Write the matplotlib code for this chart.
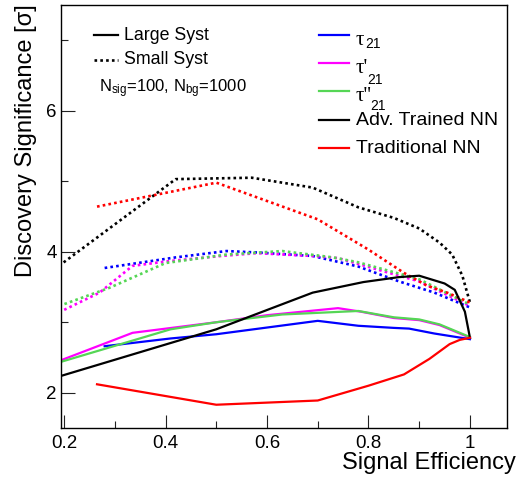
import matplotlib
matplotlib.use("Agg")
import matplotlib.pyplot as plt
from matplotlib.lines import Line2D
from matplotlib.ticker import MultipleLocator

plt.rcParams['font.family'] = ['Liberation Sans', 'DejaVu Sans']
plt.rcParams['mathtext.fontset'] = 'custom'
plt.rcParams['mathtext.rm'] = 'Liberation Sans'
plt.rcParams['mathtext.it'] = 'Liberation Sans'

# ---- data ----
adv_large_x = [0.19, 0.50, 0.69, 0.79, 0.86, 0.90, 0.95, 0.97, 0.99, 1.0]
adv_large_y = [2.23, 2.90, 3.42, 3.57, 3.64, 3.66, 3.55, 3.46, 3.15, 2.78]
adv_small_x = [0.19, 0.42, 0.57, 0.69, 0.78, 0.85, 0.90, 0.94, 0.965, 0.985, 1.0]
adv_small_y = [3.80, 5.03, 5.05, 4.91, 4.63, 4.48, 4.33, 4.13, 3.96, 3.66, 3.28]

trad_large_x = [0.265, 0.50, 0.70, 0.80, 0.87, 0.92, 0.96, 0.98, 1.0]
trad_large_y = [2.12, 1.83, 1.89, 2.10, 2.26, 2.48, 2.69, 2.75, 2.78]
trad_small_x = [0.265, 0.50, 0.70, 0.80, 0.87, 0.915, 0.955, 1.0]
trad_small_y = [4.64, 4.98, 4.46, 4.03, 3.70, 3.52, 3.42, 3.28]

tau_large_x = [0.28, 0.41, 0.50, 0.70, 0.78, 0.85, 0.88, 0.93, 1.0]
tau_large_y = [2.66, 2.77, 2.83, 3.02, 2.95, 2.92, 2.91, 2.84, 2.76]
tau_small_x = [0.28, 0.42, 0.52, 0.58, 0.69, 0.78, 0.86, 0.93, 1.0]
tau_small_y = [3.77, 3.92, 4.01, 3.99, 3.94, 3.79, 3.58, 3.42, 3.21]

taup_large_x = [0.19, 0.335, 0.50, 0.60, 0.74, 0.785, 0.85, 0.90, 0.94, 1.0]
taup_large_y = [2.45, 2.85, 3.00, 3.10, 3.20, 3.15, 3.06, 3.03, 2.96, 2.78]
taup_small_x = [0.19, 0.27, 0.335, 0.41, 0.51, 0.58, 0.69, 0.74, 0.86, 0.90, 1.0]
taup_small_y = [3.14, 3.42, 3.80, 3.87, 3.94, 3.98, 3.94, 3.91, 3.66, 3.58, 3.23]

taupp_large_x = [0.19, 0.41, 0.50, 0.63, 0.78, 0.85, 0.90, 0.94, 1.0]
taupp_large_y = [2.43, 2.90, 3.00, 3.11, 3.16, 3.07, 3.04, 2.97, 2.79]
taupp_small_x = [0.19, 0.29, 0.40, 0.52, 0.63, 0.73, 0.78, 0.86, 0.90, 1.0]
taupp_small_y = [3.23, 3.49, 3.84, 3.96, 4.01, 3.92, 3.85, 3.69, 3.61, 3.25]

x_ticks = [0.2, 0.4, 0.6, 0.8, 1.0]
x_tick_labels = ["0.2", "0.4", "0.6", "0.8", "1"]
y_ticks = [2, 4, 6]
y_tick_labels = ["2", "4", "6"]

BLUE = '#0000ff'
MAGENTA = '#ff00ff'
GREEN = '#55d655'
BLACK = '#000000'
RED = '#ff0000'

W, H = 526, 483
fig = plt.figure(figsize=(W / 100, H / 100), dpi=100)
ax = fig.add_axes([61 / W, 1 - 428 / H, (507 - 61) / W, (428 - 5) / H])


def fx(px):
    return px / W


def fy(py):
    return 1 - py / H


LW_S = 1.6
LW_D = 1.9
DOT = (0, (1, 1.2))

series = [
    (tau_large_x, tau_large_y, tau_small_x, tau_small_y, BLUE),
    (taup_large_x, taup_large_y, taup_small_x, taup_small_y, MAGENTA),
    (taupp_large_x, taupp_large_y, taupp_small_x, taupp_small_y, GREEN),
    (adv_large_x, adv_large_y, adv_small_x, adv_small_y, BLACK),
    (trad_large_x, trad_large_y, trad_small_x, trad_small_y, RED),
]
for lx, ly, sx, sy, c in series:
    ax.plot(sx, sy, color=c, lw=LW_D, linestyle=DOT)
for lx, ly, sx, sy, c in series:
    ax.plot(lx, ly, color=c, lw=LW_S)

ax.set_xlim(0.194, 1.073)
ax.set_ylim(1.5, 7.5)
ax.set_xticks(x_ticks)
ax.set_xticklabels(x_tick_labels)
ax.set_yticks(y_ticks)
ax.set_yticklabels(y_tick_labels)
ax.xaxis.set_minor_locator(MultipleLocator(0.1))
ax.yaxis.set_minor_locator(MultipleLocator(1))
ax.tick_params(which='both', direction='in', top=False, right=False, width=0.8, colors='#222222',
               labelcolor='black', labelsize=13.5)
ax.tick_params(axis='y', which='major', length=10, pad=3)
ax.tick_params(axis='y', which='minor', length=5)
ax.tick_params(axis='x', which='major', length=9.5, pad=5)
ax.tick_params(axis='x', which='minor', length=5)
for s in ax.spines.values():
    s.set_linewidth(1.0)

# axis titles (ROOT style: aligned to the far end)
fig.text(fx(516), fy(463), "Signal Efficiency", ha='right', va='center', fontsize=17)
fig.text(fx(26), fy(4), "Discovery Significance [σ]", ha='center', va='top',
         rotation=90, fontsize=17)

# left legend
fig.add_artist(Line2D([fx(94), fx(118)], [fy(35), fy(35)], color=BLACK, lw=LW_S))
fig.text(fx(124), fy(35), "Large Syst", ha='left', va='center', fontsize=12.8)
fig.add_artist(Line2D([fx(94), fx(118)], [fy(60), fy(60)], color=BLACK, lw=LW_D, linestyle=DOT))
fig.text(fx(124), fy(60), "Small Syst", ha='left', va='center', fontsize=12.8)
fig.text(fx(99), fy(89), r"N$_{\rm sig}$=100, N$_{\rm bg}$=1000", ha='left', va='center',
         fontsize=12)

# right legend
rows = [35, 63, 91, 120, 148]
cols = [BLUE, MAGENTA, GREEN, BLACK, RED]
for r, c in zip(rows, cols):
    fig.add_artist(Line2D([fx(319), fx(349)], [fy(r), fy(r)], color=c, lw=LW_S))

SER = ['Liberation Serif', 'DejaVu Serif']
fig.text(fx(356), fy(45), "τ", ha='left', va='baseline', fontsize=15, family=SER)
fig.text(fx(365), fy(48.5), "21", ha='left', va='baseline', fontsize=10)
fig.text(fx(356), fy(73), "τ'", ha='left', va='baseline', fontsize=15, family=SER)
fig.text(fx(367), fy(83.5), "21", ha='left', va='baseline', fontsize=10)
fig.text(fx(356), fy(101), "τ''", ha='left', va='baseline', fontsize=15, family=SER)
fig.text(fx(370), fy(110.5), "21", ha='left', va='baseline', fontsize=10)
fig.text(fx(356), fy(120.5), "Adv. Trained NN", ha='left', va='center', fontsize=14)
fig.text(fx(356), fy(148), "Traditional NN", ha='left', va='center', fontsize=14)

fig.savefig("out.png", dpi=100)
